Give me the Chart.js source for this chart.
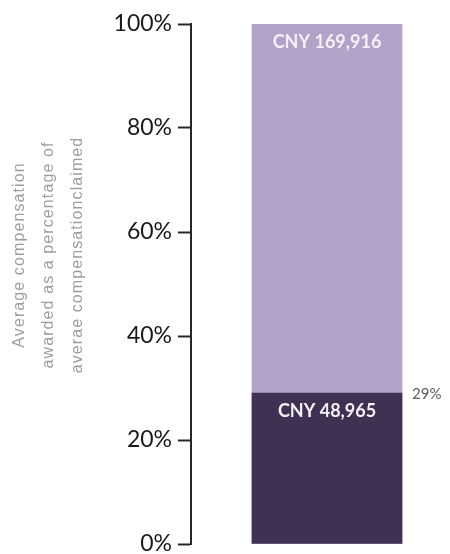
<!DOCTYPE html>
<html>
<head>
<meta charset="utf-8">
<script src="https://cdn.jsdelivr.net/npm/chart.js@4"></script>
<style>
  html, body { margin: 0; padding: 0; background: #ffffff; overflow: hidden; }
  #wrap { width: 450px; height: 554px; overflow: hidden; }
</style>
</head>
<body>
<div id="wrap"><canvas id="compChart" width="463" height="554"></canvas></div>
<script>
const categories = ['Compensation'];
const claimedPct = [100];
const awardedPct = [29];
const claimedLabels = ['CNY 169,916'];
const awardedLabels = ['CNY 48,965'];
const yTicks = [0, 20, 40, 60, 80, 100];
const axisTitle = ['Average compensation', 'awarded as a percentage of', 'averae compensationclaimed'];

const LIGHT = '#b3a2c7';
const DARK = '#403152';

// rotated three-line axis title, sitting a bit above the axis middle like the original
const axisTitlePlugin = {
    id: 'axisTitle',
    afterDraw(chart) {
        const ctx = chart.ctx;
        ctx.save();
        ctx.translate(49, 255);
        ctx.rotate(-Math.PI / 2);
        ctx.font = '16px "Liberation Sans Narrow", "Liberation Sans", sans-serif';
        ctx.letterSpacing = '1.1px';
        ctx.fillStyle = '#9e9e9e';
        ctx.textAlign = 'center';
        ctx.textBaseline = 'middle';
        axisTitle.forEach((line, i) => {
            ctx.fillText(line, 0, (i - 1) * 29);
        });
        ctx.restore();
    }
};

// value labels inside the bars + the percentage next to the awarded bar
const barLabelPlugin = {
    id: 'barLabels',
    afterDatasetsDraw(chart) {
        const ctx = chart.ctx;
        ctx.save();
        ctx.font = 'bold 18px Lato, "Open Sans", sans-serif';
        ctx.fillStyle = '#f4f0f8';
        ctx.textAlign = 'center';
        ctx.textBaseline = 'middle';
        chart.data.datasets.forEach((ds, i) => {
            const bar = chart.getDatasetMeta(i).data[0];
            ctx.fillText(ds.valueLabels[0], bar.x, bar.y + 18);
        });
        const aw = chart.getDatasetMeta(0).data[0];
        ctx.font = '15px Lato, "Open Sans", sans-serif';
        ctx.fillStyle = '#5b5b66';
        ctx.textAlign = 'left';
        ctx.fillText(awardedPct[0] + '%', aw.x + aw.width / 2 + 10, aw.y + 1);
        ctx.restore();
    }
};

new Chart(document.getElementById('compChart').getContext('2d'), {
    type: 'bar',
    data: {
        labels: categories,
        datasets: [{
            label: 'Awarded',
            data: awardedPct,
            valueLabels: awardedLabels,
            backgroundColor: DARK,
            barThickness: 150,
            order: 0
        }, {
            label: 'Claimed',
            data: claimedPct,
            valueLabels: claimedLabels,
            backgroundColor: LIGHT,
            barThickness: 150,
            order: 1
        }]
    },
    options: {
        responsive: false,
        animation: false,
        layout: {
            padding: { top: 24, bottom: 10, left: 0, right: 0 }
        },
        plugins: {
            legend: { display: false },
            tooltip: { enabled: false }
        },
        scales: {
            x: {
                display: false,
                stacked: true
            },
            y: {
                stacked: false,
                min: 0,
                max: 100,
                afterFit(scale) {
                    scale.width = 191;
                    // let the layout padding alone decide top/bottom of the plot
                    scale.paddingTop = 0;
                    scale.paddingBottom = 0;
                },
                afterBuildTicks(scale) { scale.ticks = yTicks.map(v => ({ value: v })); },
                border: { color: '#262626', width: 2 },
                grid: {
                    drawOnChartArea: false,
                    drawTicks: true,
                    tickLength: 13,
                    tickWidth: 2,
                    tickColor: '#262626'
                },
                ticks: {
                    padding: 6,
                    color: '#1a1a1a',
                    font: { family: 'Lato, "Open Sans", sans-serif', size: 23 },
                    callback: v => v + '%'
                }
            }
        }
    },
    plugins: [axisTitlePlugin, barLabelPlugin]
});
</script>
</body>
</html>
